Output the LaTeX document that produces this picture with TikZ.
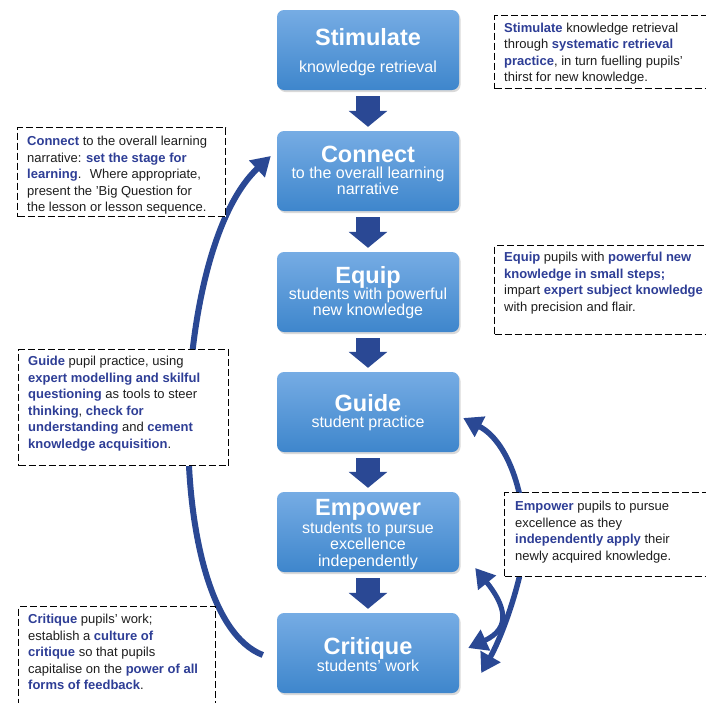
\documentclass[tikz,border=0pt]{standalone}
\usepackage{fontspec}
\setmainfont{Liberation Sans}
\usetikzlibrary{arrows.meta,shadows}
\definecolor{boxtop}{RGB}{118,172,228}
\definecolor{boxbot}{RGB}{62,134,204}
\definecolor{arrblue}{RGB}{42,72,148}
\definecolor{hlblue}{RGB}{46,62,150}
\definecolor{txtcol}{RGB}{30,30,30}
\newcommand\hlt[1]{\textbf{\color{hlblue}#1}}
\tikzset{arctip/.tip={Triangle[width=22pt,length=19pt]}}
\begin{document}
\begin{tikzpicture}[x=1pt,y=-1pt,
  stepbox/.style={rectangle, rounded corners=7pt, minimum width=182pt, minimum height=80pt,
    inner sep=0pt, top color=boxtop, bottom color=boxbot, draw=none,
    drop shadow={opacity=0.3, shadow xshift=1.5pt, shadow yshift=-2pt}},
  ttl/.style={text=white, font=\fontsize{23.5}{26}\selectfont\bfseries, anchor=base, inner sep=0pt},
  subt/.style={text=white, font=\fontsize{16}{16.8}\selectfont, anchor=base, inner sep=0pt},
  notebox/.style={rectangle, draw=black, line width=1.1pt, dash pattern=on 7pt off 3pt,
    fill=white, inner sep=0pt, anchor=north west},
  notetext/.style={anchor=base west, inner sep=0pt, text=txtcol, font=\fontsize{13}{16.6}\selectfont},
  downarr/.style={draw=arrblue, line width=24pt, -{Triangle[width=38pt,length=16pt]}},
  arcline/.style={draw=arrblue, line width=6pt}
]
\useasboundingbox (0,0) rectangle (706,702);
\clip (0,0) rectangle (706,702);

% main boxes
\node[stepbox] (stim) at (368,50) {};
\node[stepbox] (conn) at (368,171) {};
\node[stepbox] (equip) at (368,292) {};
\node[stepbox] (guide) at (368,412) {};
\node[stepbox] (emp) at (368,532) {};
\node[stepbox] (crit) at (368,653) {};

\node[ttl] (stimT) at (368,45) {Stimulate};
\node[subt] (stimS) at (368,72) {knowledge retrieval};
\node[ttl] (connT) at (368,162) {Connect};
\node[subt] (connS) at (368,178) {\begin{tabular}[t]{@{}c@{}}to the overall learning\\narrative\end{tabular}};
\node[ttl] (equipT) at (368,283) {Equip};
\node[subt] (equipS) at (368,299) {\begin{tabular}[t]{@{}c@{}}students with powerful\\new knowledge\end{tabular}};
\node[ttl] (guideT) at (368,411) {Guide};
\node[subt] (guideS) at (368,427) {student practice};
\node[ttl] (empT) at (368,515) {Empower};
\node[subt] (empS) at (368,533) {\begin{tabular}[t]{@{}c@{}}students to pursue\\excellence\\independently\end{tabular}};
\node[ttl] (critT) at (368,654) {Critique};
\node[subt] (critS) at (368,671) {students' work};

% down arrows
\draw[downarr] ([yshift=-6pt]stim.south) -- ([yshift=4pt]conn.north);
\draw[downarr] ([yshift=-6pt]conn.south) -- ([yshift=4pt]equip.north);
\draw[downarr] ([yshift=-6pt]equip.south) -- ([yshift=4pt]guide.north);
\draw[downarr] ([yshift=-6pt]guide.south) -- ([yshift=4pt]emp.north);
\draw[downarr] ([yshift=-6pt]emp.south) -- ([yshift=4pt]crit.north);

% curved arrows
\coordinate (rbend) at (522,565);
\draw[arcline, -{arctip}] ([shift={(-14pt,-2pt)}]crit.west)
  .. controls (160,615) and (168,252) .. ([shift={(-6pt,15pt)}]conn.west);
\draw[arcline, line width=5.5pt, {arctip}-{arctip}] ([shift={(22pt,-20pt)}]crit.east)
  .. controls (500,640) and (515,600) .. (rbend)
  .. controls (531,520) and (515,445) .. ([shift={(4pt,-6pt)}]guide.east);
\draw[arcline, line width=5pt, {arctip}-{arctip}] ([shift={(16pt,-36pt)}]emp.east)
  .. controls (505,605) and (512,628) .. ([shift={(9pt,5pt)}]crit.east);

% note boxes
\node[notebox, minimum width=220pt, minimum height=73pt] (n1) at (494,15) {};
\node[notebox, minimum width=208pt, minimum height=89pt] (n2) at (17,127) {};
\node[notebox, minimum width=220pt, minimum height=89pt] (n3) at (494,245) {};
\node[notebox, minimum width=210pt, minimum height=116pt] (n4) at (18,349) {};
\node[notebox, minimum width=210pt, minimum height=84pt] (n5) at (504,492) {};
\node[notebox, minimum width=197pt, minimum height=104pt] (n6) at (18,606) {};

\node[notetext] (t1) at (504,32) {\begin{tabular}[t]{@{}l@{}}
\hlt{Stimulate} knowledge retrieval\\
through \hlt{systematic retrieval}\\
\hlt{practice}, in turn fuelling pupils'\\
thirst for new knowledge.\end{tabular}};
\node[notetext] (t2) at (27,145.5) {\begin{tabular}[t]{@{}l@{}}
\hlt{Connect} to the overall learning\\
narrative: \hlt{set the stage for}\\
\hlt{learning}. \ Where appropriate,\\
present the 'Big Question for\\
the lesson or lesson sequence.\end{tabular}};
\node[notetext] (t3) at (504,261.5) {\begin{tabular}[t]{@{}l@{}}
\hlt{Equip} pupils with \hlt{powerful new}\\
\hlt{knowledge in small steps;}\\
impart \hlt{expert subject knowledge}\\
with precision and flair.\end{tabular}};
\node[notetext] (t4) at (28,365.5) {\begin{tabular}[t]{@{}l@{}}
\hlt{Guide} pupil practice, using\\
\hlt{expert modelling and skilful}\\
\hlt{questioning} as tools to steer\\
\hlt{thinking}, \hlt{check for}\\
\hlt{understanding} and \hlt{cement}\\
\hlt{knowledge acquisition}.\end{tabular}};
\node[notetext] (t5) at (515,510.5) {\begin{tabular}[t]{@{}l@{}}
\hlt{Empower} pupils to pursue\\
excellence as they\\
\hlt{independently apply} their\\
newly acquired knowledge.\end{tabular}};
\node[notetext] (t6) at (28,623.5) {\begin{tabular}[t]{@{}l@{}}
\hlt{Critique} pupils' work;\\
establish a \hlt{culture of}\\
\hlt{critique} so that pupils\\
capitalise on the \hlt{power of all}\\
\hlt{forms of feedback}.\end{tabular}};
\end{tikzpicture}
\end{document}
